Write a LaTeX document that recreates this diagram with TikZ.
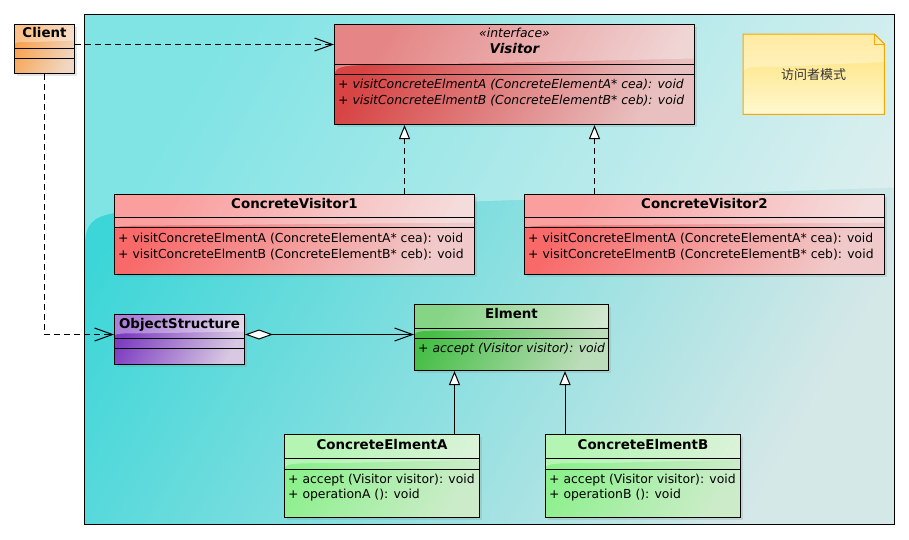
\documentclass[tikz,border=0pt]{standalone}
\usepackage{fontspec}
\setmainfont{DejaVu Sans}
\newfontfamily\cjkfont{Noto Sans CJK SC}
\usetikzlibrary{positioning, calc, arrows.meta, shadows}
\definecolor{frameCyan}{HTML}{3CD6D8}
\definecolor{frameGray}{HTML}{EAEAEA}
\definecolor{clientOrange}{HTML}{F8A04C}
\definecolor{visitorRed}{HTML}{D84444}
\definecolor{concVisRed}{HTML}{F86A6A}
\definecolor{objPurple}{HTML}{7E3EC2}
\definecolor{elmGreen}{HTML}{46BE46}
\definecolor{concElmGreen}{HTML}{8CF08C}
\definecolor{paleGray}{HTML}{EEEAEA}
\definecolor{noteYellow}{HTML}{FFE070}
\definecolor{notePale}{HTML}{FFF8D0}
\definecolor{noteBorder}{HTML}{F5A800}
\tikzset{gloss/.style n args={3}{path picture={
  \fill[white, opacity=0.35] (path picture bounding box.north west) -- (path picture bounding box.north east)
    -- ([yshift=-#1]path picture bounding box.north east)
    -- ([xshift=#3, yshift=-#1-0.3*#2]path picture bounding box.north west)
    .. controls ([yshift=-#1-0.3*#2]path picture bounding box.north west)
    .. ([yshift=-#1-#2]path picture bounding box.north west) -- cycle;}}}
\tikzstyle{umlClass}=[draw=black, line width=1pt, anchor=north west, inner sep=0pt,
  drop shadow={shadow xshift=2pt, shadow yshift=-2pt, opacity=0.2}]
\tikzstyle{frameBox}=[draw=black, line width=1pt, anchor=north west, inner sep=0pt,
  left color=frameCyan, right color=frameCyan!12!frameGray, shading angle=60, gloss={173pt}{75pt}{130pt}]
\tikzstyle{clientFill}=[left color=clientOrange, right color=clientOrange!25!paleGray, shading angle=60, gloss={16pt}{5pt}{20pt}]
\tikzstyle{visitorFill}=[left color=visitorRed, right color=visitorRed!25!paleGray, shading angle=60, gloss={34pt}{20pt}{90pt}]
\tikzstyle{concVisFill}=[left color=concVisRed, right color=concVisRed!25!paleGray, shading angle=60, gloss={28pt}{10pt}{50pt}]
\tikzstyle{objStructFill}=[left color=objPurple, right color=objPurple!20!paleGray, shading angle=60, gloss={17pt}{6pt}{35pt}]
\tikzstyle{elmentFill}=[left color=elmGreen, right color=elmGreen!30!paleGray, shading angle=60, gloss={23pt}{10pt}{50pt}]
\tikzstyle{concElmFill}=[left color=concElmGreen, right color=concElmGreen!35!paleGray, shading angle=60, gloss={25pt}{12pt}{55pt}]
\tikzstyle{noteFill}=[draw=noteBorder, line width=1pt, top color=noteYellow, bottom color=notePale, gloss={28pt}{15pt}{40pt}]
\tikzstyle{titleText}=[anchor=base, inner sep=0pt, font=\fontsize{13.4}{15}\selectfont\bfseries]
\tikzstyle{memberText}=[anchor=base west, inner sep=0pt, font=\fontsize{12.4}{14}\selectfont]
\tikzstyle{sepLine}=[line width=1pt]
\tikzstyle{dependLine}=[line width=1pt, dash pattern=on 6pt off 4pt, -{Straight Barb[length=18pt, width=13pt]}]
\tikzstyle{realizeLine}=[line width=1pt, dash pattern=on 6pt off 4pt, -{Triangle[length=14pt, width=11pt, fill=white]}]
\tikzstyle{inheritLine}=[line width=1pt, -{Triangle[length=14pt, width=11pt, fill=white]}]
\tikzstyle{aggLine}=[line width=1pt, {Diamond[length=28pt, width=10pt, fill=white]}-{Straight Barb[length=18pt, width=13pt]}]
\begin{document}
\begin{tikzpicture}[x=1pt, y=-1pt]
  \useasboundingbox (0,0) rectangle (909,539);
  \fill[white] (0,0) rectangle (909,539);
  \node[frameBox, minimum width=810pt, minimum height=510pt] (frame) at (84,14) {};

  % class boxes
  \node[umlClass, clientFill, minimum width=60pt, minimum height=49pt] (client) at (14,24) {};
  \node[umlClass, visitorFill, minimum width=360pt, minimum height=100pt] (visitor) at (334,24) {};
  \node[umlClass, concVisFill, minimum width=360pt, minimum height=80pt] (cvA) at (114,194) {};
  \node[umlClass, concVisFill, minimum width=360pt, minimum height=80pt] (cvB) at (524,194) {};
  \node[umlClass, objStructFill, minimum width=130pt, minimum height=50pt] (objStruct) at (114,314) {};
  \node[umlClass, elmentFill, minimum width=194pt, minimum height=66pt] (elment) at (414,304) {};
  \node[umlClass, concElmFill, minimum width=195pt, minimum height=83pt] (ceA) at (284,434) {};
  \node[umlClass, concElmFill, minimum width=195pt, minimum height=83pt] (ceB) at (545,434) {};

  \foreach \n/\a/\b in {client/24/34, visitor/40/50, cvA/23/33, cvB/23/33,
      objStruct/24/34, elment/24/34, ceA/24/35, ceB/24/35}
    \draw[sepLine] ([yshift=-\a pt]\n.north west) -- ([yshift=-\a pt]\n.north east)
      ([yshift=-\b pt]\n.north west) -- ([yshift=-\b pt]\n.north east);

  % titles
  \node[titleText] (clientTitle) at ([yshift=-13.5pt]client.north) {Client};
  \node[titleText, font=\fontsize{12.4}{14}\selectfont\itshape] (visitorStereo) at ([yshift=-13pt]visitor.north) {«interface»};
  \node[titleText, font=\fontsize{13.4}{15}\selectfont\bfseries\itshape] (visitorTitle) at ([yshift=-29.5pt]visitor.north) {Visitor};
  \node[titleText] (cvATitle) at ([yshift=-14pt]cvA.north) {ConcreteVisitor1};
  \node[titleText] (cvBTitle) at ([yshift=-14pt]cvB.north) {ConcreteVisitor2};
  \node[titleText] (objStructTitle) at ([yshift=-14pt]objStruct.north) {ObjectStructure};
  \node[titleText] (elmentTitle) at ([yshift=-14pt]elment.north) {Elment};
  \node[titleText] (ceATitle) at ([yshift=-15pt]ceA.north) {ConcreteElmentA};
  \node[titleText] (ceBTitle) at ([yshift=-15pt]ceB.north) {ConcreteElmentB};

  % members
  \node[memberText, font=\fontsize{12.4}{14}\selectfont\itshape] (visitorOpA) at ([xshift=4pt, yshift=-64pt]visitor.north west)
    {+ visitConcreteElmentA (ConcreteElementA* cea): void};
  \node[memberText, font=\fontsize{12.4}{14}\selectfont\itshape] (visitorOpB) at ([xshift=4pt, yshift=-80pt]visitor.north west)
    {+ visitConcreteElmentB (ConcreteElementB* ceb): void};
  \foreach \n in {cvA, cvB} {
    \node[memberText] (\n OpA) at ([xshift=4pt, yshift=-48pt]\n.north west)
      {+ visitConcreteElmentA (ConcreteElementA* cea): void};
    \node[memberText] (\n OpB) at ([xshift=4pt, yshift=-64pt]\n.north west)
      {+ visitConcreteElmentB (ConcreteElementB* ceb): void};
  }
  \node[memberText, font=\fontsize{12.4}{14}\selectfont\itshape] (elmentOp) at ([xshift=4pt, yshift=-48pt]elment.north west)
    {+ accept (Visitor visitor): void};
  \node[memberText] (ceAOpA) at ([xshift=4pt, yshift=-49pt]ceA.north west) {+ accept (Visitor visitor): void};
  \node[memberText] (ceAOpB) at ([xshift=4pt, yshift=-64pt]ceA.north west) {+ operationA (): void};
  \node[memberText] (ceBOpA) at ([xshift=4pt, yshift=-49pt]ceB.north west) {+ accept (Visitor visitor): void};
  \node[memberText] (ceBOpB) at ([xshift=4pt, yshift=-64pt]ceB.north west) {+ operationB (): void};

  % note
  \node[minimum width=141pt, minimum height=80pt, anchor=north west, inner sep=0pt] (note) at (743,34) {};
  \filldraw[noteFill] (note.north west) -- ([xshift=-10pt]note.north east) -- ([yshift=-10pt]note.north east)
    -- (note.south east) -- (note.south west) -- cycle;
  \draw[noteBorder, line width=1pt] ([xshift=-10pt]note.north east) -- ([xshift=-10pt, yshift=-10pt]note.north east)
    -- ([yshift=-10pt]note.north east);
  \node[font=\cjkfont\fontsize{13}{15}\selectfont, text=black!80] (noteText) at (note.center) {访问者模式};

  % connectors
  \coordinate (clientOut) at ([yshift=4.5pt]client.east);
  \draw[dependLine] (clientOut) -- (clientOut -| visitor.west);
  \draw[dependLine] (client.south) |- ([yshift=5pt]objStruct.west);
  \coordinate (aggOut) at ([yshift=5pt]objStruct.east);
  \draw[aggLine] (aggOut) -- (aggOut -| elment.west);
  \coordinate (cvAOut) at ([xshift=110pt]cvA.north);
  \draw[realizeLine] (cvAOut) -- (cvAOut |- visitor.south);
  \coordinate (cvBOut) at ([xshift=-110pt]cvB.north);
  \draw[realizeLine] (cvBOut) -- (cvBOut |- visitor.south);
  \coordinate (ceAOut) at ([xshift=72.5pt]ceA.north);
  \draw[inheritLine] (ceAOut) -- (ceAOut |- elment.south);
  \coordinate (ceBOut) at ([xshift=-78pt]ceB.north);
  \draw[inheritLine] (ceBOut) -- (ceBOut |- elment.south);
\end{tikzpicture}
\end{document}
